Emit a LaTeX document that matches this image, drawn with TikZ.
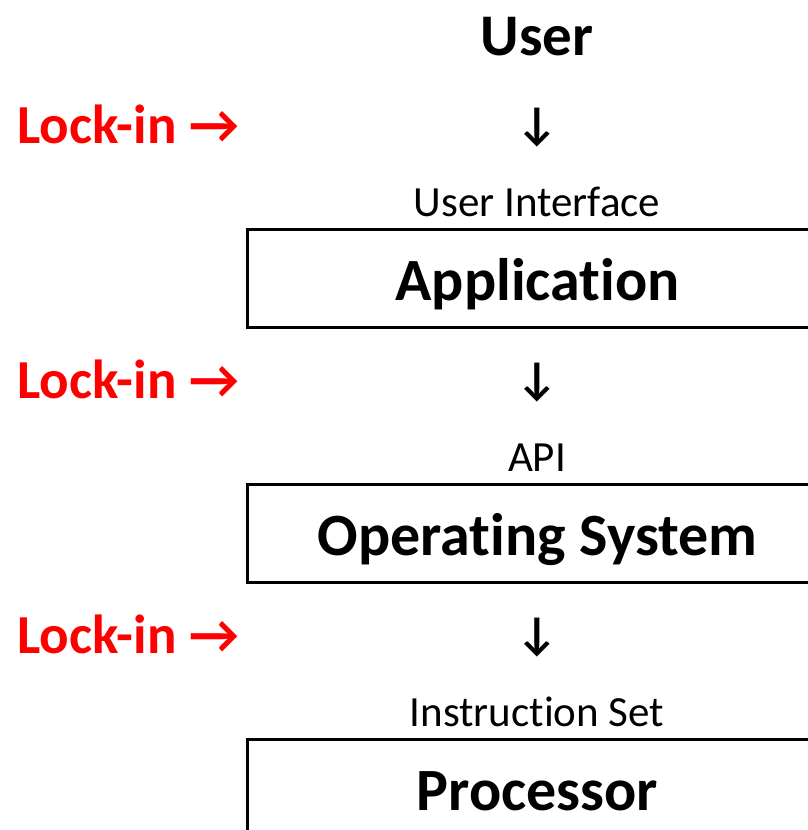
\documentclass[tikz,border=0pt]{standalone}
\usepackage{fontspec}
\setmainfont{Carlito}[Ligatures={NoCommon}]
\definecolor{lockred}{RGB}{255,0,0}
\begin{document}
\begin{tikzpicture}[x=1pt,y=-1pt,
  title/.style={font=\fontsize{59}{60}\selectfont\bfseries, inner sep=0pt, anchor=base},
  sublabel/.style={font=\fontsize{43}{45}\selectfont, inner sep=0pt, anchor=base},
  downarrow/.style={font=\fontsize{46}{48}\selectfont\bfseries, inner sep=0pt, anchor=center},
  lockin/.style={font=\fontsize{55}{57}\selectfont\bfseries, text=lockred, inner sep=0pt, anchor=base west},
  layerbox/.style={draw=black, line width=3pt, minimum width=580pt, minimum height=98pt,
    inner sep=0pt, text height=43pt, text depth=0pt,
    font=\fontsize{60}{62}\selectfont\bfseries}
]
\useasboundingbox (0,0) rectangle (808,830);
\clip (0,0) rectangle (808,830);
\node[title] (user) at (537,55) {User};

\node[lockin] (lock1) at (17,143) {Lock-in →};
\node[downarrow] (down1) at (537,128) {↓};
\node[sublabel] (ui) at (537,216) {User Interface};
\node[layerbox] (app) at (537.5,278.5) {Application};

\node[lockin] (lock2) at (17,398) {Lock-in →};
\node[downarrow] (down2) at (537,383) {↓};
\node[sublabel] (api) at (537,471) {API};
\node[layerbox] (os) at (537.5,533.5) {Operating System};

\node[lockin] (lock3) at (17,653) {Lock-in →};
\node[downarrow] (down3) at (537,638) {↓};
\node[sublabel] (isa) at (537,726) {Instruction Set};
\node[layerbox] (cpu) at (537.5,788.5) {Processor};
\end{tikzpicture}
\end{document}
